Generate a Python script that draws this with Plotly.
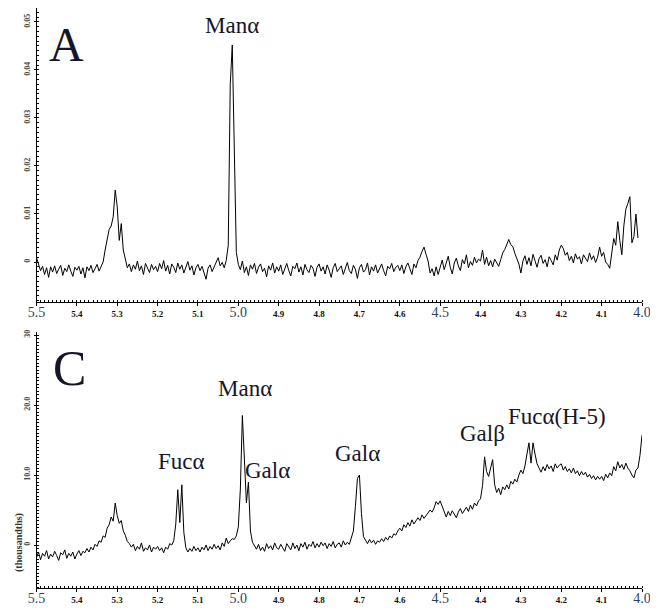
import plotly.graph_objects as go

# ---------------- data ----------------
# chemical-shift sampling grid: starts at 5.5 ppm, 0.005 ppm per sample
PPM_START = 5.5
PPM_STEP = 0.005

# Panel A intensities, in units of 0.001 (one row = 0.1 ppm), 5.500 -> 4.010 ppm
spec_A_milli = [
    0.9, -0.6, -1.8, -0.9, -2.6, -1.2, -3.2, -1.0, -2.1, -0.8, -2.4, -1.5, -0.7, -2.8, -1.3, -2.0, -0.6, -1.9, -3.0, -1.1,
    -1.7, -0.9, -2.5, -1.2, -3.3, -1.0, -1.8, -0.7, -2.2, -1.4, -0.5, -1.9, -1.0, 0.0, 2.5, 4.5, 6.8, 7.5, 9.4, 15.0,
    11.5, 4.5, 8.0, 2.5, 0.3, -1.2, -0.4, -2.0, -0.6, -1.5, 0.2, -1.8, -0.8, -2.6, -0.3, -1.2, -2.2, -0.5, -1.6, -0.9,
    -2.0, -0.3, -1.4, 0.3, -1.9, -0.7, -2.5, -0.4, -1.1, -2.2, -0.2, -1.5, -0.6, -2.3, -1.0, 0.1, -1.7, -0.8, -2.7, -1.2,
    -0.5, -1.8, -0.9, -2.4, -3.6, -1.3, -0.6, -2.0, -1.0, 0.2, 0.9, -0.8, -0.1, -1.2, 0.3, 3.5, 37.0, 45.2, 26.0, 2.0,
    -0.5, -1.6, 0.2, -2.2, -1.0, -2.8, -0.6, -1.5, -0.3, -2.4, -1.1, -0.4, -2.0, -1.3, -3.1, -0.8, -1.7, -0.2, -2.3, -1.0,
    -1.9, -0.6, -2.6, -1.2, -0.3, -1.8, -2.9, -0.9, -1.4, -0.2, -2.1, -1.0, -2.7, -0.5, -1.6, -2.2, -0.7, -1.3, -3.0, -1.1,
    -0.4, -1.9, -1.0, -2.5, -0.6, -1.7, -3.2, -1.2, -0.3, -2.0, -1.4, -0.8, -2.6, -1.1, -0.1, -1.8, -2.4, -0.7, -1.5, -3.4,
    -1.2, -0.5, -2.1, -1.6, -0.2, -2.7, -1.0, -1.9, -0.6, -2.3, -1.3, -0.4, -1.8, -2.9, -0.9, -1.4, -0.3, -2.0, -1.1, -0.7,
    -1.8, -0.6, -2.4, -1.0, -0.2, -1.5, -2.6, -0.4, -1.2, 0.3, 1.0, 2.2, 3.1, 1.6, 0.2, -2.3, -1.4, -2.9, -1.0, -2.6,
    -0.9, 0.4, -1.6, -0.3, 1.2, -1.1, -2.5, -0.2, 0.8, -0.8, -1.8, 0.5, -0.4, 1.5, -1.2, 0.1, -0.7, 1.0, -0.2, 0.6,
    0.2, 2.5, -0.5, 1.0, -0.8, 0.3, -1.0, 0.6, -0.3, -0.9, 0.5, 1.9, 2.6, 3.8, 4.7, 3.6, 3.2, 1.8, 0.6, -0.4,
    -2.3, 0.2, 1.3, -0.5, 0.9, -0.8, 1.6, 0.0, -1.1, 0.7, 1.4, -0.3, 0.5, -1.0, 1.1, 0.3, -0.6, 1.5, 0.4, 2.5,
    3.5, 2.8, 1.4, 2.0, 0.3, 1.2, -0.2, 1.7, 0.6, 1.1, -0.4, 1.5, 0.8, 0.1, 1.9, 0.5, 1.3, -0.1, 1.0, 3.1,
    1.2, 2.0, 0.0, -0.5, -1.3, 1.5, 4.9, 3.5, 8.4, 4.5, 1.5, 7.5, 11.0, 12.2, 13.6, 4.0, 5.3, 10.0, 5.0,
]

# Panel C intensities, in thousandths (one row = 0.1 ppm), 5.500 -> 4.000 ppm
spec_C = [
    -1.8, -1.0, -2.1, -1.2, -1.6, -0.8, -2.0, -1.3, -1.7, -0.9, -1.5, -2.2, -1.1, -1.4, -0.7, -1.9, -1.2, -1.6, -1.0, -2.0,
    -1.3, -0.8, -1.5, -0.9, -1.1, -0.5, -1.0, -0.3, -0.7, 0.1, -0.2, 0.6, 0.4, 1.3, 1.1, 2.4, 2.9, 4.0, 3.4, 6.0,
    4.2, 3.1, 3.5, 2.0, 1.4, 0.5, 0.2, -0.3, 0.1, -0.8, -0.2, -0.6, 0.3, -0.9, -0.4, -0.7, 0.0, -1.0, -0.3, -0.6,
    -0.2, -0.8, -0.4, -1.1, -0.3, -0.6, 0.2, 0.0, 0.6, 3.0, 7.9, 3.2, 8.6, 1.8, -0.4, -1.0, -0.5, -0.9, -0.2, -0.8,
    -0.4, -1.0, -0.3, -0.7, 0.0, -0.8, -0.2, -0.6, 0.1, -0.5, -0.1, -0.7, 0.3, -0.2, 1.0, 0.2, 0.6, 0.9, 0.8, 1.3,
    2.6, 8.0, 18.5, 12.5, 6.0, 9.0, 2.0, 0.4, -0.2, -0.6, 0.1, -0.8, -0.3, -0.9, 0.2, -0.5, -0.1, -0.7, 0.3, -0.4,
    -0.6, 0.1, -0.4, -0.9, 0.2, -0.2, -0.7, 0.3, -0.5, 0.0, -0.8, 0.2, -0.3, 0.4, -0.6, 0.1, -0.2, 0.5, -0.4, 0.2,
    -0.3, 0.4, -0.1, 0.3, -0.5, 0.2, -0.2, 0.5, -0.4, 0.1, 0.3, -0.3, 0.6, 0.0, 0.4, 0.1, 0.9, 2.0, 5.5, 9.5,
    10.0, 4.5, 1.2, 0.6, 0.2, 0.8, 0.3, 0.7, 0.1, 0.6, 0.4, 0.9, 0.5, 1.1, 0.7, 1.3, 1.0, 1.6, 1.4, 2.0,
    2.4, 2.0, 2.9, 2.5, 3.2, 2.7, 3.6, 3.0, 3.4, 3.9, 3.5, 4.3, 3.8, 4.2, 4.6, 5.0, 4.7, 5.3, 6.2, 5.8,
    6.3, 5.5, 4.6, 4.0, 4.8, 4.2, 4.9, 4.4, 3.9, 4.7, 5.2, 4.5, 5.0, 5.4, 4.8, 5.7, 5.1, 6.0, 5.6, 6.3,
    6.6, 8.5, 12.6, 10.5, 9.8, 11.0, 12.2, 8.6, 7.5, 8.1, 7.2, 8.3, 7.9, 8.6, 8.0, 9.1, 8.7, 9.4, 9.0, 10.0,
    10.7, 10.2, 11.3, 13.0, 14.6, 11.7, 14.6, 13.0, 11.6, 11.0, 10.4, 11.2, 10.6, 11.5, 10.9, 11.3, 10.5, 11.6, 11.0, 11.4,
    11.6, 10.7, 11.2, 10.5, 10.9, 10.3, 11.0, 10.2, 10.6, 9.9, 10.5, 10.0, 10.4, 9.7, 10.1, 9.5, 9.9, 9.3, 9.8, 9.4,
    9.8, 9.2, 10.1, 9.6, 10.3, 9.9, 11.2, 10.6, 11.9, 11.0, 11.5, 10.8, 11.7, 11.0, 10.6, 10.0, 9.6, 10.7, 11.0, 12.8, 15.7,
]

x_tick_vals = [5.5, 5.4, 5.3, 5.2, 5.1, 5.0, 4.9, 4.8, 4.7, 4.6, 4.5, 4.4, 4.3, 4.2, 4.1, 4.0]
x_tick_labels = ["5.5", "5.4", "5.3", "5.2", "5.1", "5.0", "4.9", "4.8", "4.7", "4.6", "4.5", "4.4", "4.3", "4.2", "4.1", "4.0"]
x_big_labels = ["5.5", "5.0", "4.5", "4.0"]

yA_tick_vals = [0, 0.01, 0.02, 0.03, 0.04, 0.05]
yA_tick_labels = ["0", "0.01", "0.02", "0.03", "0.04", "0.05"]
yC_tick_vals = [0, 10, 20, 30]
yC_tick_labels = ["0", "10.0", "20.0", "30"]

# peak labels: (text, ppm, intensity)
labels_A = [("Manα", 5.016, 0.0492)]
labels_C = [
    ("Manα", 4.984, 22.4),
    ("Fucα", 5.142, 11.9),
    ("Galα", 4.927, 10.7),
    ("Galα", 4.706, 13.1),
    ("Galβ", 4.394, 16.0),
    ("Fucα(H-5)", 4.211, 18.3),
]

# ---------------- figure ----------------
W, H = 658, 615
OFF = 8  # the page places the figure 8 px right and down of the window corner
ppm_A = [round(PPM_START - PPM_STEP * i, 4) for i in range(len(spec_A_milli))]
ppm_C = [round(PPM_START - PPM_STEP * i, 4) for i in range(len(spec_C))]
int_A = [v * 0.001 for v in spec_A_milli]

SERIF = "Liberation Serif"
TXT = "#16162a"

def px_x(p):
    return (p - OFF) / W

def px_y(p):
    return 1 - (p - OFF) / H

fig = go.Figure()
fig.add_trace(go.Scatter(x=ppm_A, y=int_A, mode="lines", xaxis="x", yaxis="y",
                         line=dict(color="black", width=1), hoverinfo="skip"))
fig.add_trace(go.Scatter(x=ppm_C, y=spec_C, mode="lines", xaxis="x2", yaxis="y2",
                         line=dict(color="black", width=1), hoverinfo="skip"))

def xt(t):
    if t in x_big_labels:
        return f'<span style="font-size:14px;color:#2c3f66">{t}</span>'
    return f"<b>{t}</b>"

x_ticktext = [xt(t) for t in x_tick_labels]
xdom = [px_x(36.5), px_x(642)]

def xaxis_cfg(anchor):
    return dict(domain=xdom, range=[5.5, 4.0], anchor=anchor, automargin=False,
                showline=True, linecolor="black", linewidth=1,
                showgrid=False, zeroline=False,
                ticks="outside", ticklen=3, tickcolor="black", tickwidth=1,
                tickvals=x_tick_vals, ticktext=x_ticktext,
                tickfont=dict(family=SERIF, size=9, color="#111111"),
                ticklabelstandoff=0,
                minor=dict(dtick=0.01, ticks="inside", ticklen=2, tickcolor="black",
                           tickwidth=1, showgrid=False))

def yaxis_cfg(anchor, dom, rng, vals, text, mdt):
    return dict(domain=dom, range=rng, anchor=anchor, automargin=False,
                showline=True, linecolor="black", linewidth=1,
                showgrid=False, zeroline=False,
                ticks="outside", ticklen=2, tickcolor="black",
                tickvals=vals, ticktext=[f"<b>{t}</b>" for t in text],
                tickangle=-90,
                tickfont=dict(family=SERIF, size=8, color="#444444"),
                minor=dict(dtick=mdt, ticks="inside", ticklen=2, tickcolor="black",
                           tickwidth=1, showgrid=False))

fig.update_layout(
    width=W, height=H,
    margin=dict(l=0, r=0, t=0, b=0, autoexpand=False),
    paper_bgcolor="white", plot_bgcolor="white",
    showlegend=False,
    xaxis=xaxis_cfg("y"),
    xaxis2=xaxis_cfg("y2"),
    yaxis=yaxis_cfg("x", [px_y(302), px_y(8)], [-0.00833, 0.0529],
                    yA_tick_vals, yA_tick_labels, 0.001),
    yaxis2=yaxis_cfg("x2", [px_y(588), px_y(332)], [-6.14, 30.43],
                     yC_tick_vals, yC_tick_labels, 0.5),
)

ann = []
ann.append(dict(text="A", x=5.4245, y=0.0452, xref="x", yref="y", showarrow=False,
                font=dict(family=SERIF, size=48, color=TXT)))
ann.append(dict(text="C", x=5.4195, y=25.3, xref="x2", yref="y2", showarrow=False,
                font=dict(family=SERIF, size=50, color=TXT)))
for t, x, y in labels_A:
    ann.append(dict(text=t, x=x, y=y, xref="x", yref="y", showarrow=False,
                    font=dict(family=SERIF, size=23, color=TXT)))
for t, x, y in labels_C:
    ann.append(dict(text=t, x=x, y=y, xref="x2", yref="y2", showarrow=False,
                    font=dict(family=SERIF, size=23, color=TXT)))
ann.append(dict(text="<b>(thousandths)</b>", x=px_x(19), y=px_y(543), xref="paper", yref="paper",
                xanchor="center", yanchor="middle",
                showarrow=False, textangle=-90,
                font=dict(family=SERIF, size=10, color="#333333")))
fig.update_layout(annotations=ann)

fig.write_html("out.html")
